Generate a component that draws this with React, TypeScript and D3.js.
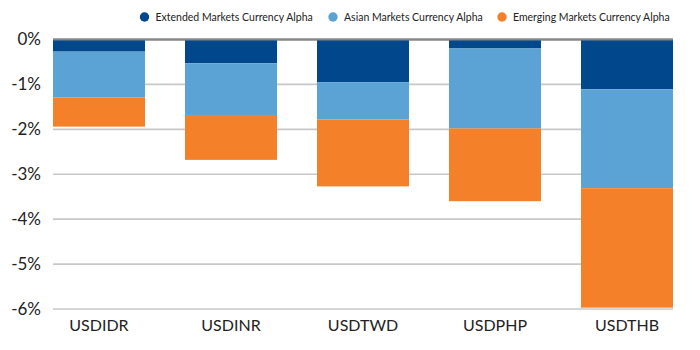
import React from "react";
import * as d3 from "d3";

const categories = ["USDIDR", "USDINR", "USDTWD", "USDPHP", "USDTHB"];
const seriesNames = [
  "Extended Markets Currency Alpha",
  "Asian Markets Currency Alpha",
  "Emerging Markets Currency Alpha",
];
const extended = [-0.27, -0.53, -0.95, -0.2, -1.11];
const asian = [-1.02, -1.15, -0.83, -1.78, -2.2];
const emerging = [-0.65, -1.0, -1.49, -1.62, -2.66];
const yTicks = [0, -1, -2, -3, -4, -5, -6];
const colors = ["#00478B", "#5BA3D4", "#F4812A"];

const W = 700;
const H = 350;
const left = 53;
const right = 673;
const top = 39.5;
const bottom = 309;

export default function App() {
  const x = d3.scaleBand<string>().domain(categories).range([left, right]).paddingInner(0.303).paddingOuter(0);
  const y = d3.scaleLinear().domain([0, -6]).range([top, bottom]);
  const series = [extended, asian, emerging];
  const font = "Lato, 'Open Sans', sans-serif";

  const rects: React.ReactNode[] = [];
  categories.forEach((c, i) => {
    let acc = 0;
    series.forEach((s, k) => {
      const y0 = acc;
      const y1 = acc + s[i];
      acc = y1;
      rects.push(
        <rect
          key={c + k}
          x={x(c)}
          y={y(y0)}
          width={x.bandwidth()}
          height={y(y1) - y(y0)}
          fill={colors[k]}
        />
      );
    });
  });

  const legendX = [144.5, 333, 502];

  return (
    <svg width={W} height={H} style={{ position: "absolute", left: 0, top: 0, background: "#fff" }}>
      {yTicks.map((t) => (
        <line key={t} x1={left} x2={right} y1={y(t)} y2={y(t)} stroke={t === 0 ? "#888" : "#c8c8c8"} strokeWidth={t === 0 ? 2 : 1.6} />
      ))}
      {rects}
      <line x1={left} x2={right} y1={y(0)} y2={y(0)} stroke="#888" strokeWidth={2} />
      {yTicks.map((t) => (
        <text key={"l" + t} x={41} y={y(t)} dy="0.35em" textAnchor="end" fontFamily={font} fontSize={17} fill="#222">
          {t + "%"}
        </text>
      ))}
      {categories.map((c) => (
        <text key={"x" + c} x={(x(c) as number) + x.bandwidth() / 2} y={331} textAnchor="middle" fontFamily={font} fontSize={16} fill="#222">
          {c}
        </text>
      ))}
      {seriesNames.map((n, k) => (
        <g key={n}>
          <circle cx={legendX[k]} cy={17} r={4.7} fill={colors[k]} />
          <text x={legendX[k] + 11} y={17} dy="0.35em" fontFamily={font} fontSize={10.5} fill="#222">
            {n}
          </text>
        </g>
      ))}
    </svg>
  );
}
